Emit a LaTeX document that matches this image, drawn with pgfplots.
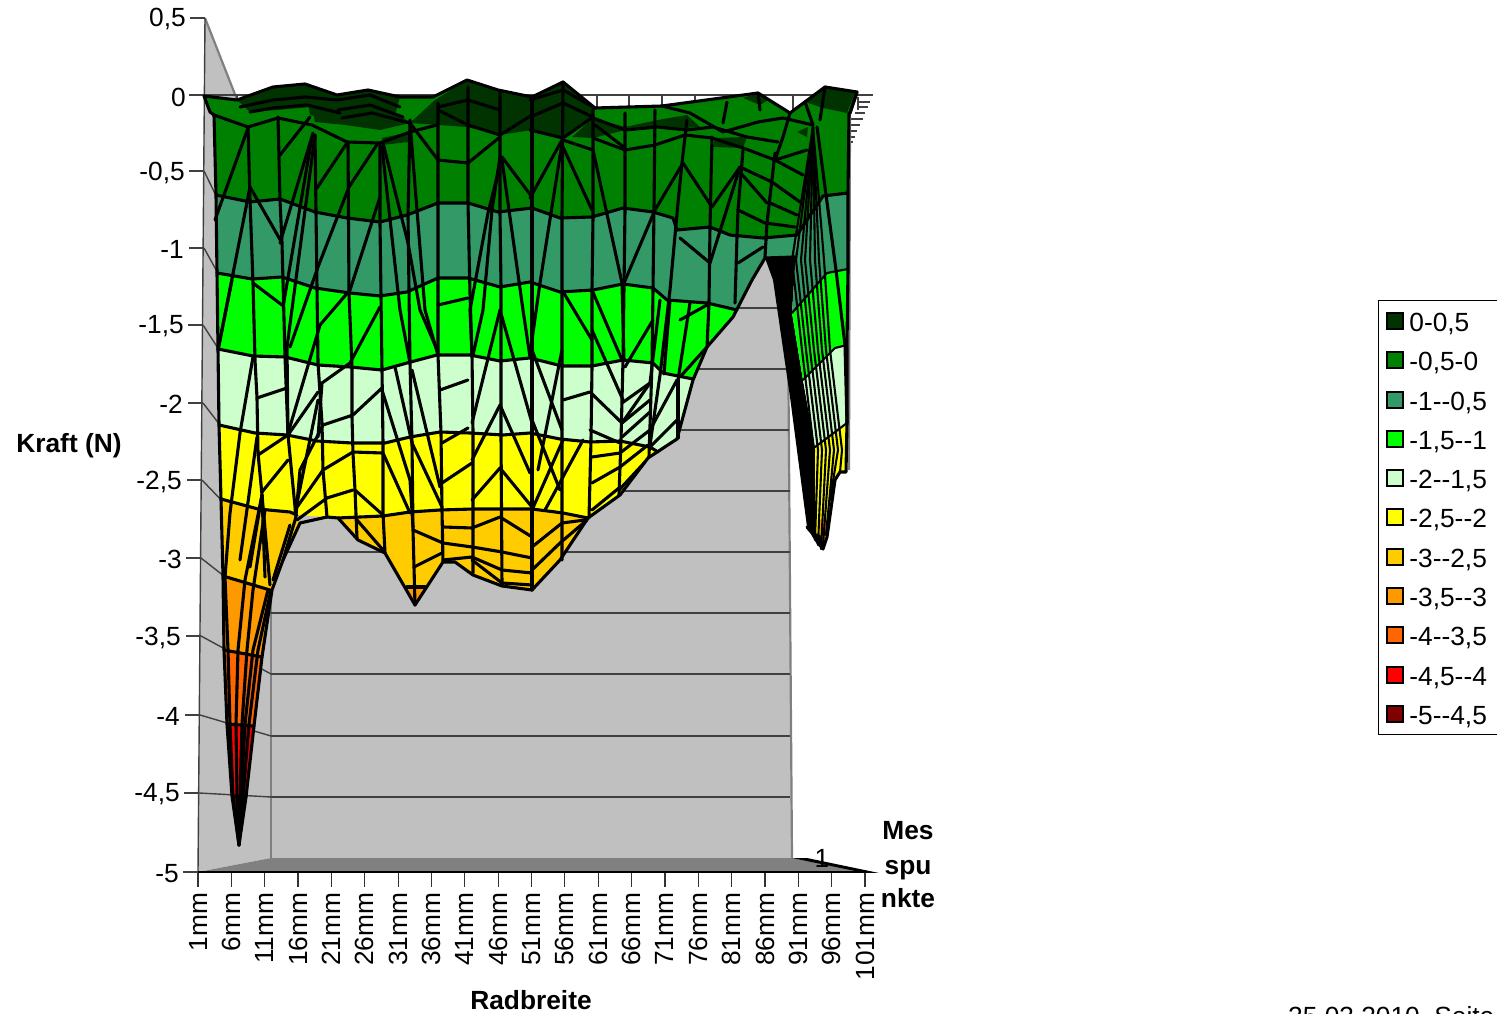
\documentclass[border=0pt]{standalone}
\usepackage{fontspec}
\setmainfont{Liberation Sans}
\usepackage{pgfplots}
\pgfplotsset{compat=1.18}
\newcommand\fs{\fontsize{26.3}{30}\selectfont}
\definecolor{cDark}{HTML}{003300}
\definecolor{cGreen}{HTML}{008000}
\definecolor{cSea}{HTML}{339966}
\definecolor{cLime}{HTML}{00FF00}
\definecolor{cLt}{HTML}{CCFFCC}
\definecolor{cYel}{HTML}{FFFF00}
\definecolor{cGold}{HTML}{FFCC00}
\definecolor{cOr}{HTML}{FF9900}
\definecolor{cDOr}{HTML}{FF6600}
\definecolor{cRed}{HTML}{FF0000}
\definecolor{cDRed}{HTML}{800000}
\definecolor{cWall}{HTML}{C0C0C0}
\definecolor{cFloor}{HTML}{808080}
\newcommand\Fl[2]{\addplot[fill=#1,draw=none,forget plot] coordinates {#2};}
\newcommand\Ms[1]{\addplot[black,line width=3.1pt,line join=round,line cap=round,forget plot] coordinates {#1};}
\newcommand\Th[1]{\addplot[black,line width=2.1pt,line join=round,line cap=round,forget plot] coordinates {#1};}
\newcommand\Gr[1]{\addplot[black!75,line width=1.4pt,forget plot] coordinates {#1};}
\newcommand\Wl[1]{\addplot[cFloor,line width=2.2pt,forget plot] coordinates {#1};}
\begin{document}
\begin{tikzpicture}[x=1pt,y=1pt]
\path[use as bounding box] (0,0) rectangle (1497,1013);
\begin{axis}[
  at={(198pt,141pt)},anchor=south west,
  scale only axis,width=667pt,height=854pt,
  xmin=1,xmax=101,ymin=-5,ymax=0.5,
  clip=false,
  x filter/.expression={1+(x-198)*100/667},
  y filter/.expression={0.5-(y-18)*5.5/854},
  axis line style={draw=none},
  xtick={1,6,...,101},
  xticklabels={1mm,6mm,11mm,16mm,21mm,26mm,31mm,36mm,41mm,46mm,51mm,56mm,61mm,66mm,71mm,76mm,81mm,86mm,91mm,96mm,101mm},
  ytick={-5,-4.492,-3.99,-3.481,-2.978,-2.476,-1.98,-1.477,-0.981,-0.486,0,0.5},
  yticklabels={{-5\kern7pt},{-4,5\kern6pt},{-4\kern6pt},{-3,5\kern5pt},{-3\kern4pt},{-2,5\kern4pt},{-2\kern3pt},{-1,5\kern2pt},{-1\kern2pt},{-0,5\kern1pt},{0},{0,5}},
  xtick pos=bottom,ytick pos=left,tick align=outside,
  major tick length=15pt,
  xtick style={black!80,line width=1.2pt},
  ytick style={draw=none},
  xticklabel style={rotate=90,anchor=east,inner sep=0pt,font=\fs},
  xticklabel shift=5.5pt,
  yticklabel style={anchor=east,inner sep=0pt,font=\fs,xshift=3pt,yshift=-1.5pt},
  yticklabel shift=0pt,
  legend style={draw=black,line width=1pt,at={(1.769,0.6698)},anchor=north west,font=\fs,
    inner xsep=8pt,inner ysep=8.5pt,
    nodes={text height=21.5pt,text depth=0.5pt,inner sep=1pt},
    /tikz/row sep=15.3pt},
  legend cell align=left,
  legend image code/.code={\draw[#1,line width=2pt,draw=black] (0pt,-8pt) rectangle (16pt,8pt);\path (20.5pt,0pt);},
]
% walls
\Fl{cWall}{(198,872)(205,18)(271,186)(271,858)}
\Fl{cWall}{(271,186)(787,186)(792,858)(271,858)}
\Fl{cFloor}{(198,872)(271,858)(792,858)(865,872)}
\Wl{(205,18)(271,186)}
\Wl{(271,186)(271,858)}
\Wl{(787,186)(792,858)}
\Gr{(271,797)(790,797)}\Gr{(271,736)(790,736)}\Gr{(271,674)(790,674)}\Gr{(271,613)(790,613)}\Gr{(271,552)(790,552)}\Gr{(271,491)(790,491)}\Gr{(271,430)(789,430)}\Gr{(271,369)(789,369)}\Gr{(271,308)(788,308)}
\Gr{(204,95)(271,247)}\Gr{(204,171)(271,308)}\Gr{(204,248)(271,369)}\Gr{(203,325)(271,430)}\Gr{(203,403)(271,491)}\Gr{(202,480)(271,552)}\Gr{(201,558)(271,613)}\Gr{(201,636)(271,674)}\Gr{(200,715)(271,736)}\Gr{(199,793)(271,797)}
% axes
\Gr{(198,872)(205,18)}
\Gr{(190,18)(205,18)}\Gr{(189,95)(204,95)}\Gr{(189,171)(204,171)}\Gr{(189,248)(204,248)}\Gr{(188,325)(203,325)}\Gr{(188,403)(203,403)}\Gr{(187,480)(202,480)}\Gr{(186,558)(201,558)}\Gr{(186,636)(201,636)}\Gr{(185,715)(200,715)}\Gr{(184,793)(199,793)}\Gr{(183,872)(198,872)}
\addplot[black,line width=1.6pt,forget plot] coordinates {(198,872)(865,872)};
\Fl{black}{(792,858)(807,858)(879,873)(865,873)}
\Gr{(204,95)(873,95)}
\Gr{(597,95)(597,115)}\Gr{(629,95)(629,115)}\Gr{(662,95)(662,115)}\Gr{(695,95)(695,115)}\Gr{(793,95)(793,120)}\Gr{(727,95)(727,115)}\Gr{(237,95)(237,105)}\Gr{(400,95)(400,105)}\Gr{(433,95)(433,105)}
\Gr{(858,97)(858,110)}
\Gr{(858,102)(870,102)}\Gr{(858,107)(868,107)}\Gr{(855,113)(865,113)}\Gr{(850,119)(863,119)}\Gr{(850,125)(860,125)}\Gr{(850,131)(857,131)}\Gr{(850,137)(855,137)}\Gr{(850,142)(853,142)}
\Wl{(857,93)(850,113)(849,470)}
% right spike
\Fl{black}{(765,258)(795,257)(797,235)(792,313)(803,380)(815,447)(820,530)(823,549)(818,543)(812,533)(807,527)(790,397)(773,280)}
\Fl{cSea}{(797,235)(823,196)(848,193)(848,269)(827,273)(792,313)}
\Fl{cLime}{(792,313)(827,273)(848,269)(847,345)(835,348)(803,380)}
\Fl{cLt}{(803,380)(835,348)(847,345)(847,423)(815,447)}
\Fl{cYel}{(815,447)(847,423)(846,472)(840,472)(835,480)(827,537)(815,533)}
\Fl{cOr}{(818,520)(829,520)(823,549)}
% main surface bands
\Fl{cGreen}{(204,96)(237,100)(273,87)(305,84)(337,95)(368,90)(400,97)(433,97)(467,80)(498,90)(532,97)(563,82)(595,108)(662,106)(758,93)(790,113)(825,87)(857,92)(850,113)(848,193)(823,196)(797,235)(763,238)(730,235)(710,227)(677,230)(673,218)(653,212)(623,208)(592,217)(560,218)(532,208)(498,212)(468,203)(438,203)(407,215)(380,222)(347,218)(315,212)(280,199)(250,202)(216,195)(214,115)}
\Fl{cSea}{(216,195)(250,202)(280,199)(315,212)(347,218)(380,222)(407,215)(438,203)(468,203)(498,212)(532,208)(560,218)(592,217)(623,208)(653,212)(673,218)(677,230)(710,227)(730,235)(763,238)(797,235)(795,257)(765,258)(752,280)(733,317)(737,310)(707,303)(667,300)(653,288)(623,284)(593,290)(560,292)(530,282)(500,287)(468,278)(438,278)(407,292)(380,296)(350,293)(315,288)(282,277)(252,279)(217,273)}
\Fl{cLime}{(217,273)(252,279)(282,277)(315,288)(350,293)(380,296)(407,292)(438,278)(468,278)(500,287)(530,282)(560,292)(593,290)(623,284)(653,288)(667,300)(707,303)(737,310)(733,317)(707,347)(693,379)(663,373)(653,363)(623,360)(592,366)(562,366)(530,358)(500,361)(470,355)(437,355)(407,363)(382,370)(350,367)(318,365)(285,357)(253,356)(218,349)}
\Fl{cLt}{(218,349)(253,356)(285,357)(318,365)(350,367)(382,370)(407,363)(437,355)(470,355)(500,361)(530,358)(562,366)(592,366)(623,360)(653,363)(663,373)(693,379)(677,439)(658,452)(650,447)(620,441)(590,442)(560,439)(530,433)(503,435)(470,433)(440,432)(410,437)(385,443)(352,443)(317,441)(287,435)(255,433)(219,425)}
\Fl{cYel}{(219,425)(255,433)(287,435)(317,441)(352,443)(385,443)(410,437)(440,432)(470,433)(503,435)(530,433)(560,439)(590,442)(620,441)(650,447)(658,452)(648,458)(620,495)(588,518)(563,513)(532,509)(473,509)(440,510)(410,512)(383,516)(338,518)(327,517)(297,515)(290,512)(258,509)(221,499)}
\Fl{cGold}{(221,499)(258,509)(290,512)(300,523)(283,560)(272,590)(270,590)(223,576)}
\Fl{cGold}{(338,518)(383,516)(410,512)(440,510)(473,509)(532,509)(563,513)(588,518)(560,560)(532,590)(502,586)(473,575)(455,562)(443,562)(425,587)(407,587)(385,553)(358,540)}
\Fl{cOr}{(407,587)(425,587)(415,605)}
\Fl{cOr}{(223,576)(270,590)(262,657)(224,650)}
\Fl{cDOr}{(224,650)(262,657)(254,726)(227,724)}
\Fl{cRed}{(227,724)(254,726)(246,797)(232,796)}
\Fl{cDRed}{(232,796)(246,797)(239,845)}
% dark patches
\Fl{cDark}{(237,100)(273,87)(305,84)(312,107)(277,110)(250,112)}
\Fl{cDark}{(305,84)(337,95)(368,90)(400,97)(395,115)(350,125)(310,115)}
\Fl{cDark}{(312,107)(340,113)(372,113)(400,115)(410,123)(380,130)(345,125)(315,122)}
\Fl{cDark}{(410,123)(435,100)(467,80)(500,90)(533,97)(532,130)(500,135)(467,127)(438,125)}
\Fl{cDark}{(382,138)(410,132)(408,142)(382,145)}
\Fl{cDark}{(530,98)(563,82)(595,108)(593,117)(563,138)(530,130)}
\Fl{cDark}{(572,137)(593,118)(625,127)(658,120)(687,115)(700,127)(685,128)(657,127)(625,130)(593,138)}
\Fl{cDark}{(715,138)(747,137)(743,148)(713,147)}
\Fl{cDark}{(743,98)(758,93)(768,100)(760,105)}
\Fl{cDark}{(805,102)(825,87)(855,92)(847,113)(823,108)}
\Fl{cDark}{(797,132)(808,127)(807,137)}
% contours
\Ms{(204,96)(237,100)(273,87)(305,84)(337,95)(368,90)(400,97)(433,97)(467,80)(498,90)(532,97)(563,82)(595,108)(662,106)(758,93)(790,113)(825,87)(857,92)(850,113)}
\Ms{(204,96)(210,112)(214,115)(216,195)(217,273)(218,349)(219,425)(221,499)(223,576)(224,650)(227,724)(232,796)(239,845)(246,797)(254,726)(262,657)(272,590)(283,560)(300,523)(327,517)(338,518)(358,540)(385,553)(415,605)(443,562)(455,562)(473,575)(502,586)(532,590)(560,560)(588,518)(620,495)(648,458)(677,439)(693,380)(707,347)(733,317)(752,280)(765,258)(795,257)}
\Ms{(216,195)(250,202)(280,199)(315,212)(347,218)(380,222)(407,215)(438,203)(468,203)(498,212)(532,208)(560,218)(592,217)(623,208)(653,212)(673,218)(677,230)(710,227)(730,235)(763,238)(797,235)}
\Ms{(217,273)(252,279)(282,277)(315,288)(350,293)(380,296)(407,292)(438,278)(468,278)(500,287)(530,282)(560,292)(593,290)(623,284)(653,288)(667,300)(707,303)(737,310)}
\Ms{(218,349)(253,356)(285,357)(318,365)(350,367)(382,370)(407,363)(437,355)(470,355)(500,361)(530,358)(562,366)(592,366)(623,360)(653,363)(663,373)(693,379)}
\Ms{(219,425)(255,433)(287,435)(317,441)(352,443)(385,443)(410,437)(440,432)(470,433)(503,435)(530,433)(560,439)(590,442)(620,441)(650,447)(658,452)}
\Ms{(221,499)(258,509)(290,512)(297,515)}
\Ms{(338,518)(383,516)(410,512)(440,510)(473,509)(532,509)(563,513)(588,518)}
\Ms{(223,576)(270,590)}\Ms{(224,650)(262,657)}\Ms{(227,724)(254,726)}\Ms{(232,796)(246,797)}\Ms{(407,587)(425,587)}
\Ms{(797,235)(823,196)(848,193)}\Th{(792,313)(827,273)(848,269)}\Th{(803,380)(835,348)(847,345)}\Th{(815,447)(847,423)}
\Ms{(849,113)(848,193)(848,269)(847,345)(847,423)(846,472)(840,472)(835,480)(827,537)(823,549)(818,543)(812,533)(807,527)}
% columns
\Ms{(248,127)(250,200)(253,283)(255,360)(257,398)(258,453)(262,495)(265,577)}
\Ms{(278,117)(280,200)(282,243)(285,357)(288,435)(296,517)}
\Ms{(315,135)(317,287)(318,363)(322,423)(323,470)(327,517)}
\Ms{(348,142)(349,293)(352,367)(352,417)(353,453)(355,490)(357,538)}
\Ms{(380,143)(380,223)(382,370)(383,443)(383,513)(385,553)}
\Ms{(410,120)(408,217)(410,363)(412,443)(413,530)(414,567)(415,605)}
\Ms{(438,103)(438,278)(438,355)(441,433)(442,510)(443,562)}
\Ms{(468,87)(468,203)(470,293)(472,355)(473,433)(473,573)}
\Ms{(500,93)(500,213)(501,287)(501,435)(502,585)}
\Ms{(532,97)(532,210)(532,433)(532,590)}
\Ms{(563,82)(562,217)(562,290)(562,367)(562,440)(562,560)}
\Ms{(593,110)(593,217)(592,290)(592,367)(591,440)(589,518)}
\Ms{(625,113)(625,210)(624,287)(623,360)(621,440)(619,495)}
\Ms{(655,110)(654,210)(653,290)(652,363)(649,457)}
\Ms{(687,120)(682,163)(678,203)(670,290)(660,375)(650,445)}
\Ms{(712,137)(710,227)(709,303)(707,347)}
\Ms{(743,150)(738,210)(737,237)(735,303)}
\Ms{(775,153)(767,223)(765,257)}
\Ms{(817,127)(836,270)(845,345)(847,423)}
% diagonals
\Ms{(248,128)(215,220)}\Ms{(250,187)(218,350)}\Ms{(250,187)(282,243)}\Ms{(280,155)(310,117)}\Ms{(313,133)(280,243)}\Ms{(315,135)(287,347)(288,435)}\Ms{(312,137)(283,307)}\Ms{(347,143)(317,188)}\Ms{(378,143)(349,187)(318,267)(290,347)}\Ms{(382,147)(400,310)(410,363)}\Ms{(383,143)(408,243)(420,310)(438,352)}\Ms{(410,123)(425,310)(438,355)}\Ms{(380,197)(350,290)(320,325)(289,430)}\Ms{(380,307)(350,363)(322,383)(318,437)}\Ms{(382,388)(353,415)(323,425)(300,470)(296,515)}\Ms{(288,435)(258,455)}\Ms{(288,460)(262,492)}\Ms{(318,392)(288,435)}\Ms{(318,400)(295,513)}\Ms{(323,470)(295,510)}\Ms{(353,452)(323,470)}\Ms{(382,453)(353,452)}\Ms{(353,490)(327,498)(297,520)}\Ms{(355,490)(383,515)}\Ms{(357,520)(383,550)}\Ms{(257,398)(287,388)}\Ms{(253,283)(282,305)}\Ms{(382,390)(410,480)(413,527)}\Ms{(383,453)(410,513)}\Ms{(395,367)(412,443)}\Ms{(412,370)(440,487)}\Ms{(412,443)(442,507)}\Ms{(413,530)(443,543)(472,547)(502,552)(532,558)}\Ms{(414,567)(442,553)}\Ms{(443,527)(472,528)(500,517)(532,537)}\Ms{(443,560)(472,557)(502,570)(532,573)}\Ms{(472,560)(502,583)}\Ms{(502,583)(532,585)}\Ms{(442,483)(472,463)}\Ms{(442,443)(468,428)}\Ms{(440,390)(468,380)}\Ms{(438,305)(468,298)}\Ms{(472,500)(500,468)(532,507)}\Ms{(472,460)(500,405)(530,473)}\Ms{(472,423)(500,310)(532,423)}\Ms{(502,157)(488,213)(470,310)(472,355)}\Ms{(500,157)(492,210)(483,310)(473,355)}\Ms{(502,160)(523,310)(530,357)}\Ms{(502,157)(532,197)}\Ms{(500,137)(468,163)(438,160)(410,123)}
\Ms{(562,140)(530,198)}\Ms{(562,143)(540,283)(532,340)}\Ms{(563,147)(592,210)}\Ms{(593,150)(622,283)(624,360)}\Ms{(625,150)(655,145)(685,135)(712,138)(743,148)(775,160)(807,150)}\Ms{(593,150)(563,140)}\Ms{(625,148)(595,125)}\Ms{(683,163)(655,210)(624,283)}\Ms{(683,163)(712,207)(740,167)}\Ms{(740,167)(710,263)(680,238)}\Ms{(738,170)(767,203)}\Ms{(740,167)(772,182)(800,202)}\Ms{(738,210)(765,223)(795,227)}\Ms{(770,203)(797,215)}\Ms{(775,160)(803,175)}\Ms{(738,263)(763,247)}\Ms{(680,320)(707,305)}\Ms{(707,347)(680,377)}\Ms{(677,380)(650,430)}\Ms{(677,420)(650,447)}\Ms{(678,380)(678,438)}\Ms{(563,400)(590,392)(622,423)(650,383)}\Ms{(622,403)(650,383)}\Ms{(622,423)(650,400)}\Ms{(622,437)(650,412)}\Ms{(590,430)(620,443)}\Ms{(592,457)(620,453)}\Ms{(592,483)(620,467)}\Ms{(592,510)(619,488)}\Ms{(620,453)(650,430)}\Ms{(620,467)(648,445)}\Ms{(619,490)(645,462)}\Ms{(592,330)(623,400)}\Ms{(562,290)(592,340)}\Ms{(653,320)(625,367)}\Ms{(563,440)(532,510)}\Ms{(583,440)(545,510)}\Ms{(532,547)(562,523)(585,520)}\Ms{(532,570)(560,543)(587,520)}\Ms{(592,290)(622,360)}\Ms{(532,420)(560,490)}\Ms{(532,350)(562,430)}\Ms{(562,350)(538,470)}\Ms{(650,383)(660,300)}\Ms{(678,380)(690,303)}\Ms{(664,374)(670,300)}
% top mesh
\Ms{(240,107)(273,100)(305,97)(337,100)}\Ms{(250,112)(273,108)(307,105)(340,113)}\Ms{(248,127)(278,118)(312,125)(347,142)}\Ms{(337,100)(370,95)(400,107)}\Ms{(338,110)(370,105)(403,117)}\Ms{(342,118)(372,113)(410,123)}\Ms{(347,142)(380,143)(410,132)(437,125)}\Ms{(438,107)(468,100)(500,110)}\Ms{(438,110)(468,125)(500,135)}\Ms{(500,135)(532,115)}\Ms{(530,117)(563,103)(593,117)}\Ms{(530,100)(563,90)(595,108)}\Ms{(530,130)(563,138)(593,117)}\Ms{(593,138)(625,150)}\Ms{(593,118)(625,130)(657,127)(687,130)(713,127)(747,137)(778,142)}\Ms{(662,106)(690,113)(723,132)(758,122)(783,118)(813,125)}\Ms{(727,102)(723,123)}\Ms{(758,93)(760,110)}\Ms{(790,113)(783,137)(775,160)}\Ms{(825,87)(820,120)}\Ms{(857,92)(850,113)}\Ms{(214,115)(248,127)}\Ms{(805,102)(813,125)}
% left spike stripes
\Ms{(253,357)(240,433)(230,513)(225,577)}\Ms{(262,495)(245,580)(238,650)(236,724)(237,797)(239,845)}\Ms{(265,510)(253,590)(247,650)(242,724)(240,797)(239,845)}\Ms{(268,590)(253,650)(245,724)(241,797)(239,845)}\Ms{(271,590)(258,650)(249,724)(243,797)(239,845)}\Ms{(225,577)(228,650)(230,724)(233,797)(239,845)}\Ms{(257,437)(240,560)}\Ms{(262,495)(250,567)}\Ms{(232,280)(218,350)}\Ms{(262,495)(270,585)}\Ms{(283,560)(296,517)}\Ms{(273,580)(290,525)}
% right spike stripes
\Th{(813,127)(792,260)(802,350)(814,450)(812,533)}\Th{(813,127)(796,260)(806,350)(818,450)(815,540)}\Th{(813,127)(801,260)(810,350)(822,450)(818,545)}\Th{(813,127)(805,260)(814,350)(826,450)(821,549)}\Th{(813,127)(810,260)(818,350)(830,450)(823,545)}\Th{(813,127)(815,260)(822,350)(834,450)(826,535)}\Th{(813,127)(819,260)(826,350)(838,450)(830,500)}\Th{(813,127)(824,260)(830,350)(842,450)(840,472)}
% legend
\addlegendimage{fill=cDark}\addlegendentry{0-0,5}
\addlegendimage{fill=cGreen}\addlegendentry{-0,5-0}
\addlegendimage{fill=cSea}\addlegendentry{-1-{}-0,5\kern12pt}
\addlegendimage{fill=cLime}\addlegendentry{-1,5-{}-1}
\addlegendimage{fill=cLt}\addlegendentry{-2-{}-1,5}
\addlegendimage{fill=cYel}\addlegendentry{-2,5-{}-2}
\addlegendimage{fill=cGold}\addlegendentry{-3-{}-2,5}
\addlegendimage{fill=cOr}\addlegendentry{-3,5-{}-3}
\addlegendimage{fill=cDOr}\addlegendentry{-4-{}-3,5}
\addlegendimage{fill=cRed}\addlegendentry{-4,5-{}-4}
\addlegendimage{fill=cDRed}\addlegendentry{-5-{}-4,5}
\end{axis}
\node[font=\fs\bfseries,anchor=base] at (69,560) {Kraft (N)};
\node[font=\fs\bfseries,anchor=base] at (531,4) {Radbreite};
\node[font=\fs\bfseries,anchor=base] at (908,173.5) {Mes};
\node[font=\fs\bfseries,anchor=base] at (908,139) {spu};
\node[font=\fs\bfseries,anchor=base] at (908,105.5) {nkte};
\node[font=\fs,anchor=base] at (822,146) {1};
\node[font=\fs,anchor=base west,inner sep=0pt] at (1288,-12) {25.03.2010, Seite};
\end{tikzpicture}
\end{document}
